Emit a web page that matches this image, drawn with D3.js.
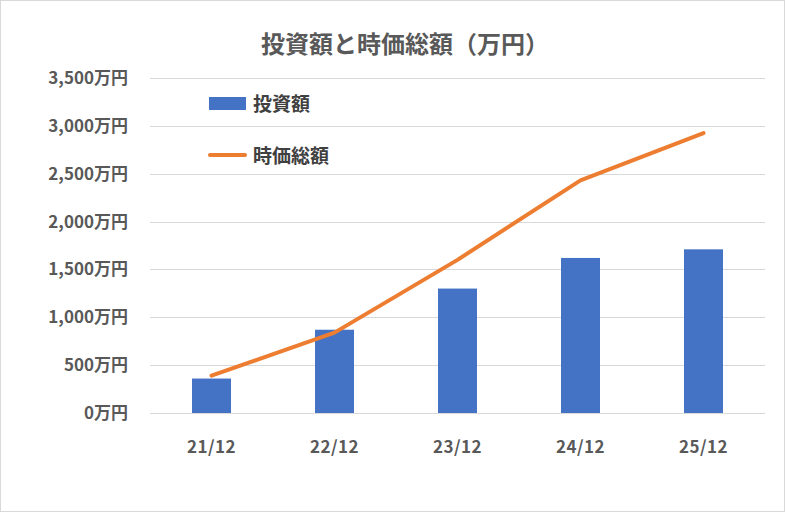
<!DOCTYPE html>
<html>
<head>
<meta charset="utf-8">
<script src="https://cdn.jsdelivr.net/npm/d3@7"></script>
<style>
body { margin:0; background:#fff; }
text { font-family: "Noto Sans CJK JP", "Noto Sans", sans-serif; }
</style>
</head>
<body>
<div id="canvas"></div>
<script>
var categories = ["21/12", "22/12", "23/12", "24/12", "25/12"];
var investValues = [360, 870, 1300, 1620, 1710];
var marketValues = [390, 840, 1600, 2430, 2925];
var yTicks = [0, 500, 1000, 1500, 2000, 2500, 3000, 3500];

var W = 785, H = 512;
var margin = {left: 150, right: 20, top: 78, bottom: 99};

var svg = d3.select("#canvas").append("svg")
            .attr("width", W).attr("height", H);

svg.append("rect").attr("x", 0.5).attr("y", 0.5)
   .attr("width", W - 1).attr("height", H - 1)
   .attr("fill", "#fff").attr("stroke", "#d9d9d9");

var x = d3.scaleBand().domain(categories)
          .range([margin.left, W - margin.right]);
var y = d3.scaleLinear().domain([0, 3500])
          .range([H - margin.bottom, margin.top]);

// gridlines
svg.append("g").selectAll("line").data(yTicks).enter().append("line")
   .attr("x1", margin.left).attr("x2", W - margin.right)
   .attr("y1", function(d) { return Math.round(y(d)) + 0.5; })
   .attr("y2", function(d) { return Math.round(y(d)) + 0.5; })
   .attr("stroke", "#d9d9d9").attr("stroke-width", 1);

// y tick labels
svg.append("g").selectAll("text").data(yTicks).enter().append("text")
   .attr("x", 128).attr("y", function(d) { return y(d) + 6; })
   .attr("text-anchor", "end")
   .attr("font-size", 17).attr("font-weight", "bold").attr("fill", "#595959")
   .text(function(d) { return d3.format(",")(d) + "万円"; });

// x labels
svg.append("g").selectAll("text").data(categories).enter().append("text")
   .attr("x", function(d) { return x(d) + x.bandwidth() / 2; })
   .attr("y", 453)
   .attr("text-anchor", "middle")
   .attr("font-size", 17).attr("font-weight", "bold").attr("fill", "#595959")
   .attr("letter-spacing", 0.5)
   .text(function(d) { return d; });

// bars
var barW = 39;
svg.append("g").selectAll("rect").data(investValues).enter().append("rect")
   .attr("x", function(d, i) { return x(categories[i]) + x.bandwidth() / 2 - barW / 2; })
   .attr("y", function(d) { return y(d); })
   .attr("width", barW)
   .attr("height", function(d) { return y(0) - y(d); })
   .attr("fill", "#4472c4");

// line
var line = d3.line()
   .x(function(d, i) { return x(categories[i]) + x.bandwidth() / 2; })
   .y(function(d) { return y(d); });
svg.append("path").datum(marketValues)
   .attr("d", line).attr("fill", "none")
   .attr("stroke", "#ed7d31").attr("stroke-width", 4)
   .attr("stroke-linecap", "round").attr("stroke-linejoin", "round");

// title
svg.append("text").attr("x", 405).attr("y", 53)
   .attr("text-anchor", "middle")
   .attr("font-size", 24).attr("font-weight", "bold").attr("fill", "#595959")
   .text("投資額と時価総額（万円）");

// legend
svg.append("rect").attr("x", 209).attr("y", 97).attr("width", 37).attr("height", 13)
   .attr("fill", "#4472c4");
svg.append("text").attr("x", 253).attr("y", 111)
   .attr("font-size", 19).attr("font-weight", "bold").attr("fill", "#404040")
   .text("投資額");
svg.append("line").attr("x1", 210).attr("x2", 245).attr("y1", 155).attr("y2", 155)
   .attr("stroke", "#ed7d31").attr("stroke-width", 4).attr("stroke-linecap", "round");
svg.append("text").attr("x", 253).attr("y", 163)
   .attr("font-size", 19).attr("font-weight", "bold").attr("fill", "#404040")
   .text("時価総額");
</script>
</body>
</html>
